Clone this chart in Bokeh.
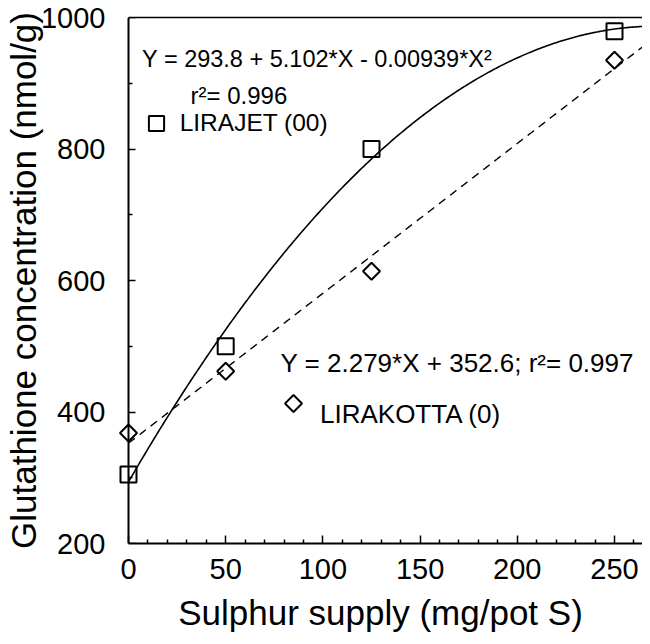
import numpy as np
from bokeh.plotting import figure
from bokeh.models import (LinearAxis, FixedTicker, Label, Legend, LegendItem, Range1d,
                          PolyAnnotation)
from bokeh.embed import file_html
from bokeh.resources import INLINE

# ---- data ----
sulphur = [0, 50, 125, 250]                 # mg/pot S
lirajet = [305, 500, 800, 979]              # nmol/g  (squares)
lirakotta = [368, 462, 614, 935]            # nmol/g  (diamonds)
quad_coef = [293.8, 5.102, -0.00939]        # LIRAJET fit: a + b*X + c*X^2
lin_coef = [352.6, 2.279]                   # LIRAKOTTA fit: a + b*X
x_ticks = [0, 50, 100, 150, 200, 250]
x_minor = [v for v in range(0, 280, 10) if v % 50]
y_ticks = [200, 400, 600, 800, 1000]
y_minor = [300, 500, 700, 900]
eq1_text = "Y = 293.8 + 5.102*X - 0.00939*X²"
r1_text = "r²= 0.996"
eq2_text = "Y = 2.279*X + 352.6; r²= 0.997"
name1 = "LIRAJET (00)"
name2 = "LIRAKOTTA (0)"

FONT = "Liberation Sans"
X_START, X_END = -5.14, 264.4

p = figure(width=642, height=636,
           x_range=Range1d(X_START, X_END), y_range=Range1d(200, 1000),
           output_backend="svg", toolbar_location=None,
           min_border_left=118, min_border_right=0,
           min_border_top=17, min_border_bottom=93)
p.grid.visible = False
p.outline_line_color = None

# fitted curves from the printed regression equations
xs = np.linspace(0, 270, 300)
yq = quad_coef[0] + quad_coef[1] * xs + quad_coef[2] * xs ** 2
yl = lin_coef[0] + lin_coef[1] * xs
p.line(xs, yq, line_color="black", line_width=1.6)
p.line(xs, yl, line_color="black", line_width=1.4, line_dash="8 6")

sq = p.scatter(sulphur, lirajet, marker="square", size=16, fill_color=None,
               line_color="black", line_width=2)
dm = p.scatter(sulphur, lirakotta, marker="square", angle=np.pi / 4, size=12,
               fill_color=None, line_color="black", line_width=2)

xax = p.xaxis[0]
yax = p.yaxis[0]

# bottom axis
xax.ticker = FixedTicker(ticks=x_ticks, minor_ticks=x_minor)
xax.bounds = (0, 300)
xax.axis_line_width = 2
xax.major_tick_in = 8
xax.major_tick_out = 0
xax.minor_tick_in = 4
xax.minor_tick_out = 0
xax.major_tick_line_width = 1.5
xax.minor_tick_line_width = 1.5
xax.major_label_text_font = FONT
xax.major_label_text_font_size = "29px"
xax.major_label_text_color = "black"
xax.major_label_standoff = 15
xax.axis_label = "Sulphur supply (mg/pot S)"
xax.axis_label_text_font = FONT
xax.axis_label_text_font_size = "35px"
xax.axis_label_text_font_style = "normal"
xax.axis_label_text_color = "black"
xax.axis_label_standoff = 11

# left axis: labels and title only (line drawn by the axis at x = 0 below)
yax.ticker = FixedTicker(ticks=y_ticks)
yax.axis_line_color = None
yax.major_tick_line_color = None
yax.minor_tick_line_color = None
yax.major_label_text_font = FONT
yax.major_label_text_font_size = "29px"
yax.major_label_text_color = "black"
yax.major_label_standoff = 7
yax.axis_label = "Glutathione concentration (nmol/g)"
yax.axis_label_text_font = FONT
yax.axis_label_text_font_size = "35px"
yax.axis_label_text_font_style = "normal"
yax.axis_label_text_color = "black"
yax.axis_label_standoff = -5

# axis line and inward ticks at x = 0
y0 = LinearAxis(fixed_location=0, ticker=FixedTicker(ticks=y_ticks, minor_ticks=y_minor),
                axis_line_width=2, major_tick_in=7, major_tick_out=0,
                minor_tick_in=4, minor_tick_out=0,
                major_tick_line_width=1.5, minor_tick_line_width=1.5,
                major_label_text_font_size="0px", major_label_text_color=None,
                major_label_standoff=0)
p.add_layout(y0, "left")

top = LinearAxis(ticker=FixedTicker(ticks=[]), axis_line_width=1.5, bounds=(0, 300),
                 major_tick_line_color=None, minor_tick_line_color=None,
                 major_label_text_font_size="0px", major_label_standoff=0)
p.add_layout(top, "above")

# text annotations
for txt, x, y, fs in [(eq1_text, 7.0, 937.6, "23.5px"), (r1_text, 31.9, 881.4, "24px"),
                      (eq2_text, 78.2, 473.8, "26px"), (name2, 98.5, 397.7, "26px")]:
    p.add_layout(Label(x=x, y=y, text=txt, text_font=FONT, text_font_size=fs,
                       text_color="black", text_baseline="alphabetic"))

# legend key for LIRAJET
leg1 = Legend(items=[LegendItem(label=name1, renderers=[sq])],
              location=(18.7, 401.5), glyph_width=38, glyph_height=38,
              label_standoff=5, padding=0, margin=0,
              label_text_font=FONT, label_text_font_size="24.5px",
              label_text_color="black",
              background_fill_alpha=0, border_line_color=None)
p.add_layout(leg1)

# legend key (diamond) for LIRAKOTTA, in screen units from the frame corner
kx, ky, kr = 175, 140, 8.5
p.add_layout(PolyAnnotation(xs=[kx, kx + kr, kx, kx - kr], ys=[ky + kr, ky, ky - kr, ky],
                            xs_units="screen", ys_units="screen",
                            fill_color=None, fill_alpha=0, line_color="black",
                            line_width=2, line_alpha=1))

open("out.html", "w").write(file_html(p, INLINE))
